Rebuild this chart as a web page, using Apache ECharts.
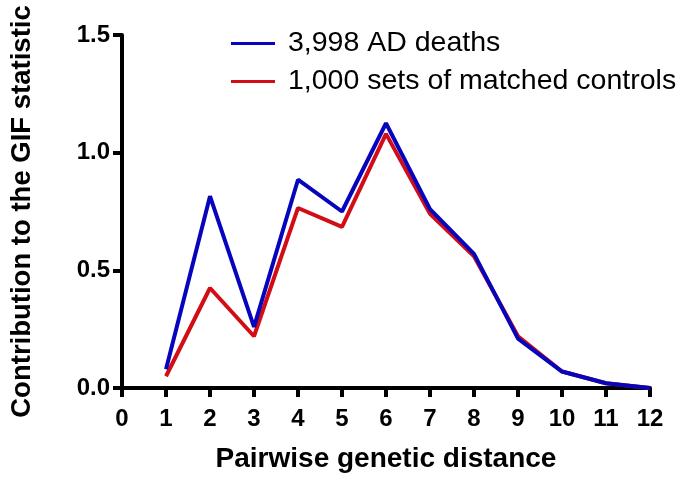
<!DOCTYPE html>
<html><head><meta charset="utf-8">
<script src="https://cdn.jsdelivr.net/npm/echarts@6/dist/echarts.min.js"></script>
<style>html,body{margin:0;padding:0;background:#fff}#c{width:683px;height:485px}</style>
</head><body><div id="c"></div>
<script>
var distances = [1,2,3,4,5,6,7,8,9,10,11,12];
var adDeaths = [0.08,0.815,0.26,0.885,0.75,1.125,0.76,0.57,0.21,0.07,0.02,0.0];
var controls = [0.05,0.425,0.22,0.765,0.685,1.08,0.74,0.56,0.22,0.07,0.02,0.0];
var seriesNames = ['3,998 AD deaths','1,000 sets of matched controls'];
var seriesColors = ['#0605bd','#d20d16'];
var xTitle = 'Pairwise genetic distance';
var yTitle = 'Contribution to the GIF statistic';

function pairs(xs, ys){ return xs.map(function(x,i){return [x, ys[i]];}); }

var chart = echarts.init(document.getElementById('c'));
var font = 'Liberation Sans, Arial, sans-serif';
chart.setOption({
  animation:false,
  grid:{left:120,right:33,top:35,bottom:97},
  legend:{
    orient:'vertical', left:226, top:24, itemGap:9,
    icon:'rect', itemWidth:44, itemHeight:3,
    textStyle:{fontFamily:font,fontSize:28.5,color:'#000',padding:[0,0,0,8]},
    data:seriesNames
  },
  xAxis:{
    type:'value', min:0, max:12, interval:1,
    name:xTitle, nameLocation:'middle', nameGap:57,
    nameTextStyle:{fontFamily:font,fontSize:28,fontWeight:'bold',color:'#000'},
    axisLine:{onZero:false,lineStyle:{color:'#000',width:4}},
    axisTick:{show:true,length:9,lineStyle:{color:'#000',width:4}},
    axisLabel:{fontFamily:font,fontSize:24,fontWeight:'bold',color:'#000',margin:19},
    splitLine:{show:false}
  },
  yAxis:{
    type:'value', min:0, max:1.5, interval:0.5,
    name:yTitle, nameLocation:'middle', nameGap:86,
    nameTextStyle:{fontFamily:font,fontSize:27.5,fontWeight:'bold',color:'#000'},
    axisLine:{show:true,lineStyle:{color:'#000',width:4}},
    axisTick:{show:true,length:9,lineStyle:{color:'#000',width:4}},
    axisLabel:{fontFamily:font,fontSize:24,fontWeight:'bold',color:'#000',margin:12,
      formatter:function(v){return v.toFixed(1);}},
    splitLine:{show:false}
  },
  series:[
    {name:seriesNames[1],type:'line',data:pairs(distances,controls),symbol:'none',
     lineStyle:{color:seriesColors[1],width:4},itemStyle:{color:seriesColors[1]},z:2},
    {name:seriesNames[0],type:'line',data:pairs(distances,adDeaths),symbol:'none',
     lineStyle:{color:seriesColors[0],width:4},itemStyle:{color:seriesColors[0]},z:3}
  ]
});
</script></body></html>
